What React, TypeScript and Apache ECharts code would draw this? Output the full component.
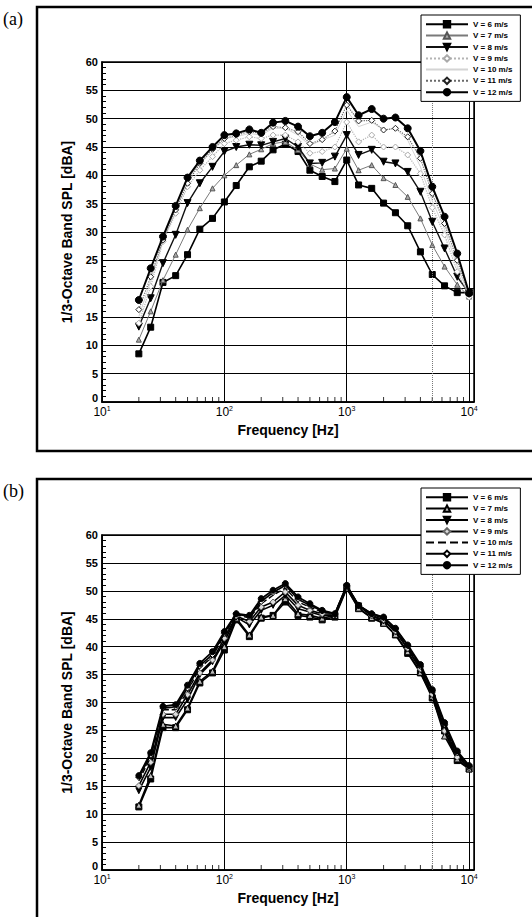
import React, { useEffect, useRef } from "react";
import * as echarts from "echarts";

// 1/3-octave band centre frequencies [Hz]
const FREQS = [20, 25, 31.5, 40, 50, 63, 80, 100, 125, 160, 200, 250, 315, 400, 500, 630, 800, 1000, 1250, 1600, 2000, 2500, 3150, 4000, 5000, 6300, 8000, 10000];
const SPEEDS = ["V = 6 m/s", "V = 7 m/s", "V = 8 m/s", "V = 9 m/s", "V = 10 m/s", "V = 11 m/s", "V = 12 m/s"];

// Panel (a)
const A_V6 = [8.5, 13.2, 21.1, 22.3, 26.0, 30.5, 32.4, 35.3, 38.2, 41.5, 42.5, 44.5, 45.5, 44.2, 40.9, 39.8, 38.9, 42.7, 38.3, 37.7, 35.1, 33.4, 31.1, 26.5, 22.5, 20.5, 19.3, 19.3];
const A_V7 = [11.0, 16.0, 21.5, 26.0, 30.4, 34.2, 37.7, 40.0, 41.8, 43.7, 44.6, 45.6, 45.9, 44.5, 42.0, 41.0, 41.2, 44.7, 40.9, 41.8, 39.5, 38.3, 36.2, 32.4, 27.7, 23.9, 20.7, 18.6];
const A_V8 = [13.3, 18.3, 24.5, 29.5, 35.1, 38.6, 41.5, 44.2, 45.0, 45.4, 45.3, 45.9, 46.5, 45.0, 42.1, 42.2, 43.3, 47.1, 43.6, 44.5, 42.4, 42.1, 40.6, 37.1, 31.8, 27.1, 22.1, 19.2];
const A_V9 = [13.9, 20.4, 28.3, 33.3, 38.0, 40.9, 43.3, 45.6, 46.2, 46.8, 46.5, 47.1, 47.1, 45.9, 43.9, 44.2, 45.0, 49.4, 45.9, 47.1, 45.0, 45.0, 43.6, 40.3, 34.3, 29.5, 23.0, 18.5];
const A_V10 = [15.1, 21.3, 28.6, 34.2, 39.2, 42.1, 44.2, 46.5, 46.8, 47.4, 47.1, 48.3, 48.3, 47.1, 45.3, 46.2, 47.1, 51.5, 48.6, 49.4, 48.0, 48.3, 46.2, 41.5, 35.5, 30.5, 24.0, 18.8];
const A_V11 = [16.3, 22.1, 28.6, 33.9, 38.6, 42.1, 44.6, 46.5, 47.1, 47.7, 47.4, 48.6, 48.4, 47.7, 45.6, 46.3, 47.8, 52.4, 49.6, 49.7, 48.0, 48.3, 46.8, 43.0, 36.8, 31.5, 25.0, 19.0];
const A_V12 = [18.0, 23.6, 29.2, 34.6, 39.6, 42.6, 45.0, 47.1, 47.4, 48.1, 47.5, 49.3, 49.6, 48.6, 46.9, 47.5, 49.4, 53.8, 50.6, 51.7, 50.0, 50.2, 48.3, 44.3, 38.0, 32.7, 26.2, 19.2];

// Panel (b)
const B_V6 = [11.3, 16.3, 25.5, 25.5, 28.7, 33.5, 35.3, 39.4, 44.8, 41.8, 45.1, 45.6, 48.0, 45.6, 45.3, 44.8, 45.3, 50.4, 46.8, 45.1, 44.2, 42.1, 38.8, 35.3, 30.8, 24.9, 19.6, 18.1];
const B_V7 = [11.6, 16.9, 26.1, 25.8, 29.0, 33.8, 35.6, 40.0, 45.1, 42.1, 45.3, 45.6, 48.6, 45.9, 45.6, 45.1, 45.6, 50.5, 46.9, 45.2, 44.2, 42.2, 39.1, 35.4, 31.1, 24.0, 19.9, 18.1];
const B_V8 = [14.2, 18.4, 27.3, 27.3, 30.5, 35.0, 37.3, 40.9, 45.3, 43.9, 46.5, 47.4, 49.2, 46.8, 46.2, 45.6, 45.6, 50.7, 47.3, 45.5, 44.6, 42.7, 39.6, 35.9, 31.4, 25.5, 20.5, 18.3];
const B_V9 = [15.1, 19.3, 27.9, 27.9, 31.4, 35.3, 37.6, 41.5, 45.5, 44.5, 47.1, 48.0, 49.8, 47.4, 46.5, 45.9, 45.8, 50.8, 47.4, 45.6, 44.8, 42.8, 39.7, 36.0, 31.5, 24.9, 20.2, 18.4];
const B_V10 = [16.0, 20.2, 28.7, 28.7, 32.0, 36.2, 38.2, 42.1, 45.8, 45.1, 47.7, 49.2, 50.5, 48.0, 47.1, 46.2, 45.9, 50.9, 47.4, 45.8, 45.1, 43.0, 40.0, 36.3, 31.9, 25.8, 20.7, 18.5];
const B_V11 = [16.6, 20.6, 29.0, 29.2, 32.6, 36.6, 38.6, 42.4, 45.9, 45.3, 48.1, 49.7, 51.0, 48.5, 47.4, 46.4, 45.9, 50.9, 47.4, 45.9, 45.2, 43.2, 40.2, 36.5, 32.1, 26.1, 21.0, 18.6];
const B_V12 = [16.9, 21.0, 29.3, 29.6, 33.1, 37.0, 39.1, 42.7, 45.9, 45.6, 48.6, 50.1, 51.3, 48.9, 47.7, 46.5, 45.9, 51.0, 47.4, 45.9, 45.3, 43.3, 40.3, 36.8, 32.3, 26.4, 21.3, 18.7];

// axis ticks
const X_DECADES = [1, 2, 3, 4]; // 10^1 .. 10^4
const X_MAX_EXP = 4.04;
const MINOR_FREQS = [20, 30, 40, 50, 60, 70, 80, 90, 200, 300, 400, 500, 600, 700, 800, 900, 2000, 3000, 4000, 5000, 6000, 7000, 8000, 9000];
const REF_FREQ = 5000;
const Y_MIN = 0;
const Y_MAX = 60;
const Y_STEP = 5;

const A_DATA = [A_V6, A_V7, A_V8, A_V9, A_V10, A_V11, A_V12];
const B_DATA = [B_V6, B_V7, B_V8, B_V9, B_V10, B_V11, B_V12];

const FONT = '"Liberation Sans", Arial, sans-serif';

type Sty = { color: string; width: number; type: string; symbol: string; size: number; fill?: string; border?: string; rotate?: number };

const STYLE_A: Sty[] = [
  { color: "#000", width: 1.6, type: "solid", symbol: "rect", size: 6, fill: "#000", border: "#000" },
  { color: "#7a7a7a", width: 1, type: "solid", symbol: "triangle", size: 5, fill: "#aaa", border: "#555" },
  { color: "#111", width: 1.4, type: "solid", symbol: "triangle", size: 7, fill: "#000", border: "#000", rotate: 180 },
  { color: "#b4b4b4", width: 1.2, type: "dotted", symbol: "diamond", size: 6, fill: "#fff", border: "#aaa" },
  { color: "#d4d4d4", width: 1, type: "solid", symbol: "none", size: 0 },
  { color: "#6a6a6a", width: 1.2, type: "dotted", symbol: "diamond", size: 6, fill: "#fff", border: "#222" },
  { color: "#000", width: 2, type: "solid", symbol: "circle", size: 7, fill: "#000", border: "#000" },
];

const STYLE_B: Sty[] = [
  { color: "#000", width: 1.6, type: "solid", symbol: "rect", size: 6, fill: "#000", border: "#000" },
  { color: "#000", width: 1.6, type: "solid", symbol: "triangle", size: 6, fill: "#bbb", border: "#000" },
  { color: "#000", width: 1.6, type: "solid", symbol: "triangle", size: 6, fill: "#000", border: "#000", rotate: 180 },
  { color: "#000", width: 1.6, type: "solid", symbol: "diamond", size: 6, fill: "#ddd", border: "#666" },
  { color: "#000", width: 1.4, type: "dashed", symbol: "none", size: 0 },
  { color: "#000", width: 1.6, type: "solid", symbol: "diamond", size: 6, fill: "#fff", border: "#000" },
  { color: "#000", width: 1.8, type: "solid", symbol: "circle", size: 6, fill: "#000", border: "#000" },
];

function buildOption(data: number[][], styles: Sty[], label: string, gridTop: number, gridBottom: number, frameY: number, legendTop: number) {
  const series: any[] = SPEEDS.map((name, i) => {
    const s = styles[i];
    const noSym = s.symbol === "none";
    return {
      name,
      type: "line",
      data: FREQS.map((f, k) => [Math.log10(f), data[i][k]]),
      symbol: s.symbol,
      showSymbol: !noSym,
      symbolSize: noSym ? 0 : s.size,
      symbolRotate: s.rotate || 0,
      lineStyle: { color: s.color, width: s.width, type: s.type },
      itemStyle: noSym
        ? { color: s.color }
        : { color: s.fill || s.color, borderColor: s.border || s.color, borderWidth: 1 },
      z: 3 + i,
    };
  });
  series.push({
    name: "minor",
    type: "scatter",
    data: MINOR_FREQS.map((f) => [Math.log10(f), Y_MIN]),
    symbol: "rect",
    symbolSize: [1, 5],
    symbolOffset: [0, -2.5],
    itemStyle: { color: "#000" },
    silent: true,
    clip: false,
    z: 2,
    markLine: {
      silent: true,
      symbol: "none",
      label: { show: false },
      lineStyle: { type: "dotted", color: "#777", width: 1 },
      data: [{ xAxis: Math.log10(REF_FREQ) }],
    },
  });

  const legendData = SPEEDS.map((name, i) =>
    styles[i].symbol === "none" ? { name, itemStyle: { opacity: 0 } } : { name }
  );

  return {
    animation: false,
    backgroundColor: "#fff",
    graphic: [
      { type: "rect", shape: { x: 37, y: frameY, width: 560, height: 444 }, style: { fill: "none", stroke: "#000", lineWidth: 2.5 }, silent: true, z: 10 },
      { type: "text", left: 3, top: frameY + 3, style: { text: label, font: '18px "Liberation Serif", "Times New Roman", serif', fill: "#000" }, silent: true },
    ],
    legend: {
      data: legendData,
      orient: "vertical",
      left: 421,
      top: legendTop,
      width: 104,
      itemWidth: 42,
      itemHeight: 8,
      itemGap: 3,
      padding: [5, 8, 5, 4],
      borderColor: "#000",
      borderWidth: 1,
      backgroundColor: "#fff",
      selectedMode: false,
      textStyle: { fontSize: 8, fontWeight: "bold", fontFamily: FONT, color: "#000" },
      z: 20,
    },
    grid: {
      left: 102,
      right: 58,
      top: gridTop,
      bottom: gridBottom,
      show: true,
      borderColor: "#000",
      borderWidth: 1.5,
      backgroundColor: "transparent",
    },
    xAxis: {
      type: "value",
      min: X_DECADES[0],
      max: X_MAX_EXP,
      interval: 1,
      name: "Frequency [Hz]",
      nameLocation: "middle",
      nameGap: 18,
      nameTextStyle: { fontSize: 14, fontWeight: "bold", fontFamily: FONT, color: "#000" },
      axisLine: { show: true, lineStyle: { color: "#000", width: 1.5 } },
      axisTick: { show: true, inside: true, length: 7, lineStyle: { color: "#000", width: 1 } },
      splitLine: { show: true, lineStyle: { color: "#000", width: 1 } },
      axisLabel: {
        showMaxLabel: false,
        margin: 3,
        formatter: (v: number) => {
          const n = Math.round(v);
          if (Math.abs(v - n) > 1e-6 || !X_DECADES.includes(n)) return "";
          return `{b|10}{s|${n}}`;
        },
        rich: {
          b: { fontSize: 12, fontFamily: FONT, color: "#000", lineHeight: 13, verticalAlign: "bottom" },
          s: { fontSize: 7, fontFamily: FONT, color: "#000", lineHeight: 7, verticalAlign: "top" },
        },
      },
    },
    yAxis: {
      type: "value",
      min: Y_MIN,
      max: Y_MAX,
      interval: Y_STEP,
      name: "1/3-Octave Band SPL [dBA]",
      nameLocation: "middle",
      nameGap: 28,
      nameTextStyle: { fontSize: 14, fontWeight: "bold", fontFamily: FONT, color: "#000" },
      axisLine: { show: true, lineStyle: { color: "#000", width: 1.5 } },
      axisTick: { show: true, inside: true, length: 7, lineStyle: { color: "#000", width: 1 } },
      minorTick: { show: true, splitNumber: 5, length: 4, lineStyle: { color: "#000", width: 1 } },
      splitLine: { show: true, lineStyle: { color: "#000", width: 1 } },
      axisLabel: {
        fontSize: 11,
        fontWeight: "bold",
        fontFamily: FONT,
        color: "#000",
        margin: 4,
        formatter: (v: number) => (v === Y_MIN ? `{z|${v}}` : `${v}`),
        rich: {
          z: { fontSize: 11, fontWeight: "bold", fontFamily: FONT, color: "#000", padding: [0, 0, 8, 0] },
        },
      },
    },
    series,
  };
}

function Chart(props: { top: number; height: number; option: any }) {
  const ref = useRef<HTMLDivElement>(null);
  useEffect(() => {
    if (!ref.current) return;
    const chart = echarts.init(ref.current, undefined, { renderer: "svg" });
    chart.setOption(props.option);
    return () => chart.dispose();
  }, []);
  return <div ref={ref} style={{ position: "absolute", left: 0, top: props.top, width: 532, height: props.height }} />;
}

export default function App() {
  const optA = buildOption(A_DATA, STYLE_A, "(a)", 62, 58, 7, 15);
  const optB = buildOption(B_DATA, STYLE_B, "(b)", 75, 47, 19, 28);
  return (
    <div style={{ position: "absolute", left: 0, top: 0, width: 532, height: 917, background: "#fff" }}>
      <Chart top={0} height={460} option={optA} />
      <Chart top={460} height={457} option={optB} />
    </div>
  );
}
